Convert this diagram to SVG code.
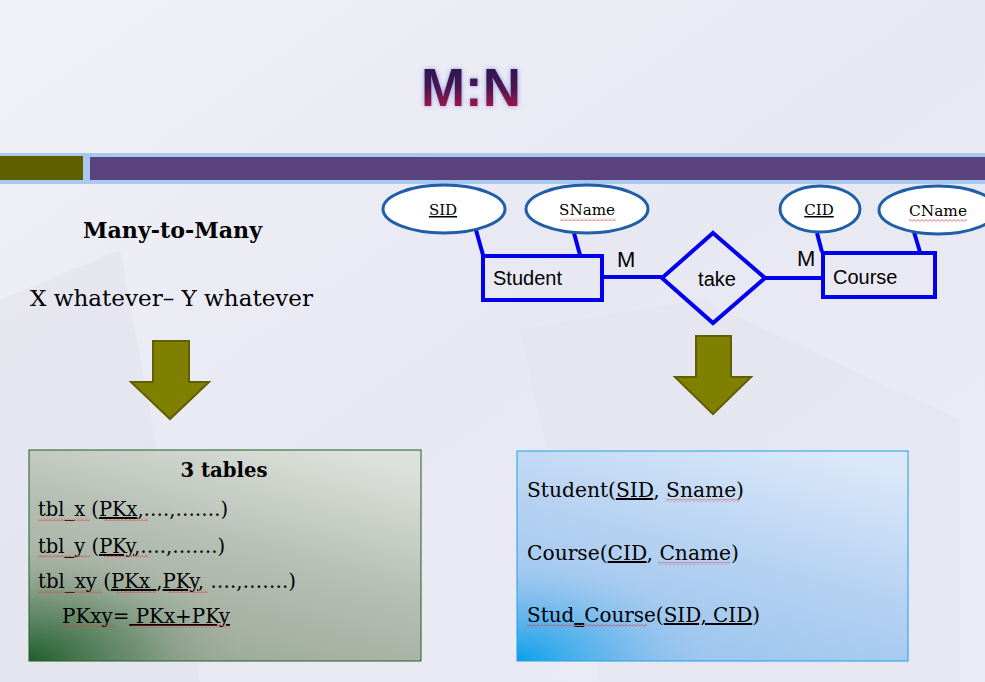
<svg xmlns="http://www.w3.org/2000/svg" width="985" height="682" viewBox="0 0 985 682">
<defs>
<linearGradient id="bg" x1="0" y1="0" x2="1" y2="1">
<stop offset="0" stop-color="#f1f1f8"/>
<stop offset="0.5" stop-color="#e8e8f3"/>
<stop offset="1" stop-color="#ececf6"/>
</linearGradient>
<linearGradient id="title" x1="0" y1="0" x2="0" y2="1">
<stop offset="0" stop-color="#1c1850"/>
<stop offset="0.5" stop-color="#4a1450"/>
<stop offset="1" stop-color="#d0103c"/>
</linearGradient>
<filter id="glow" x="-20%" y="-20%" width="140%" height="140%">
<feGaussianBlur in="SourceAlpha" stdDeviation="2.5" result="b"/>
<feFlood flood-color="#7070e0" flood-opacity="0.7"/>
<feComposite in2="b" operator="in"/>
<feMerge><feMergeNode/><feMergeNode in="SourceGraphic"/></feMerge>
</filter>
<linearGradient id="gbox" x1="0.8" y1="0" x2="0.3" y2="1">
<stop offset="0" stop-color="#dde1dc"/>
<stop offset="0.5" stop-color="#b5beb3"/>
<stop offset="1" stop-color="#9aa898"/>
</linearGradient>
<radialGradient id="gcorner" cx="0" cy="1" r="0.55">
<stop offset="0" stop-color="#1e5e2c" stop-opacity="1"/>
<stop offset="0.5" stop-color="#4a7a50" stop-opacity="0.55"/>
<stop offset="1" stop-color="#9aa898" stop-opacity="0"/>
</radialGradient>
<linearGradient id="bbox" x1="0.8" y1="0" x2="0.3" y2="1">
<stop offset="0" stop-color="#dbe8f9"/>
<stop offset="0.5" stop-color="#b6d2f2"/>
<stop offset="1" stop-color="#98c3ee"/>
</linearGradient>
<radialGradient id="bcorner" cx="0" cy="1" r="0.5">
<stop offset="0" stop-color="#08a0ea" stop-opacity="1"/>
<stop offset="0.5" stop-color="#40acec" stop-opacity="0.5"/>
<stop offset="1" stop-color="#98c3ee" stop-opacity="0"/>
</radialGradient>
<pattern id="wavy" patternUnits="userSpaceOnUse" width="4" height="3">
<path d="M0 2.5 L2 0.5 L4 2.5" fill="none" stroke="#e03838" stroke-width="0.8"/>
</pattern>
<style>
.ell { fill: #ffffff; stroke: #1f5ea8; stroke-width: 3; }
.ent { fill: none; stroke: #0000ee; stroke-width: 4; }
.conn { stroke: #0000ee; stroke-width: 4; fill: none; }
.lab { font-family: "Liberation Sans", Arial, sans-serif; font-size: 20px; fill: #000; }
.card { font-family: "Liberation Sans", Arial, sans-serif; font-size: 22px; fill: #000; }
.attr { font-family: "DejaVu Serif", "Liberation Serif", serif; font-size: 15px; fill: #000; text-anchor: middle; }
.serif { font-family: "DejaVu Serif", "Liberation Serif", serif; fill: #000; }
.big { font-size: 22px; }
.box { font-size: 20px; }
.ul { text-decoration: underline; }
.arrow { fill: #808000; stroke: #5f5f00; stroke-width: 2; }
</style>
</defs>

<rect x="0" y="0" width="985" height="682" fill="url(#bg)"/>
<path d="M0 300 L120 250 L200 682 L0 682 Z" fill="#e2e2ec" opacity="0.6"/>
<path d="M520 330 L700 300 L960 420 L960 682 L600 682 Z" fill="#e4e4ee" opacity="0.5"/>

<g id="title-text">
<text x="471" y="106" text-anchor="middle" font-family="Liberation Sans, Arial, sans-serif" font-size="53" font-weight="bold" fill="url(#title)" filter="url(#glow)" textLength="100" lengthAdjust="spacingAndGlyphs">M:N</text>
</g>

<g id="band">
<rect x="0" y="153" width="985" height="31" fill="#a9c8ef"/>
<rect x="0" y="156" width="83" height="24" fill="#5f5f00"/>
<rect x="90" y="157" width="895" height="23" fill="#5a427e"/>
</g>

<g id="connectors">
<line class="conn" x1="476" y1="230" x2="483" y2="255"/>
<line class="conn" x1="574" y1="233" x2="580" y2="255"/>
<line class="conn" x1="817" y1="233" x2="822" y2="252"/>
<line class="conn" x1="914" y1="232" x2="920" y2="252"/>
<line class="conn" x1="602" y1="277" x2="662" y2="277"/>
<line class="conn" x1="765" y1="278" x2="823" y2="278"/>
<text class="card" x="617" y="267">M</text>
<text class="card" x="797" y="266">M</text>
</g>

<g id="attr-sid">
<ellipse class="ell" cx="444" cy="209" rx="61" ry="24"/>
<text class="attr" x="443" y="215"><tspan class="ul">SID</tspan></text>
</g>
<g id="attr-sname">
<ellipse class="ell" cx="587" cy="209" rx="61" ry="24"/>
<text class="attr" x="587" y="215" textLength="56" lengthAdjust="spacingAndGlyphs">SName</text>
<rect x="560" y="218" width="56" height="3" fill="url(#wavy)"/>
</g>
<g id="attr-cid">
<ellipse class="ell" cx="820" cy="209" rx="40" ry="23"/>
<text class="attr" x="819" y="215"><tspan class="ul">CID</tspan></text>
</g>
<g id="attr-cname">
<ellipse class="ell" cx="938" cy="210" rx="59" ry="24"/>
<text class="attr" x="938" y="216" textLength="58" lengthAdjust="spacingAndGlyphs">CName</text>
<rect x="909" y="219" width="58" height="3" fill="url(#wavy)"/>
</g>

<g id="entity-student">
<rect class="ent" x="483" y="256" width="119" height="44"/>
<text class="lab" x="493" y="285">Student</text>
</g>
<g id="relationship-take">
<polygon class="ent" points="713,233 765,278 713,323 662,278"/>
<text class="lab" x="717" y="286" text-anchor="middle">take</text>
</g>
<g id="entity-course">
<rect class="ent" x="823" y="253" width="112" height="44"/>
<text class="lab" x="833" y="284">Course</text>
</g>

<g id="left-text">
<text class="serif big" x="83" y="238" font-weight="bold" textLength="179" lengthAdjust="spacingAndGlyphs">Many-to-Many</text>
<text class="serif big" x="30" y="306" textLength="283" lengthAdjust="spacingAndGlyphs">X whatever– Y whatever</text>
</g>

<g id="arrow-left">
<polygon class="arrow" points="153,341 189,341 189,382 209,382 170,419 131,382 153,382"/>
</g>
<g id="arrow-right">
<polygon class="arrow" points="696,336 731,336 731,377 751,377 713,414 675,377 696,377"/>
</g>

<g id="box-tables">
<rect x="29" y="450" width="392" height="211" fill="url(#gbox)"/>
<rect x="29" y="450" width="392" height="211" fill="url(#gcorner)"/>
<rect x="29" y="450" width="392" height="211" fill="none" stroke="#1f5f2a" stroke-width="1"/>
<text class="serif box" x="224" y="477" text-anchor="middle" font-weight="bold" textLength="87" lengthAdjust="spacingAndGlyphs">3 tables</text>
<text class="serif box" x="38" y="516" textLength="190" lengthAdjust="spacingAndGlyphs">tbl_x (<tspan class="ul">PKx</tspan>,….,…….)</text>
<text class="serif box" x="38" y="553" textLength="187" lengthAdjust="spacingAndGlyphs">tbl_y (<tspan class="ul">PKy</tspan>,….,…….)</text>
<text class="serif box" x="38" y="588" textLength="258" lengthAdjust="spacingAndGlyphs">tbl_xy (<tspan class="ul">PKx </tspan>,<tspan class="ul">PKy</tspan>, ….,…….)</text>
<text class="serif box" x="62" y="623" textLength="168" lengthAdjust="spacingAndGlyphs">PKxy=<tspan class="ul"> PKx+PKy</tspan></text>
<rect x="38" y="518" width="52" height="3" fill="url(#wavy)"/>
<rect x="104" y="518" width="44" height="3" fill="url(#wavy)"/>
<rect x="38" y="555" width="52" height="3" fill="url(#wavy)"/>
<rect x="104" y="555" width="44" height="3" fill="url(#wavy)"/>
<rect x="38" y="590" width="64" height="3" fill="url(#wavy)"/>
<rect x="116" y="590" width="40" height="3" fill="url(#wavy)"/>
<rect x="168" y="590" width="40" height="3" fill="url(#wavy)"/>
<rect x="62" y="625" width="52" height="3" fill="url(#wavy)"/>
<rect x="132" y="625" width="98" height="3" fill="url(#wavy)"/>
</g>

<g id="box-schema">
<rect x="517" y="451" width="391" height="210" fill="url(#bbox)"/>
<rect x="517" y="451" width="391" height="210" fill="url(#bcorner)"/>
<rect x="517" y="451" width="391" height="210" fill="none" stroke="#1aa0e8" stroke-width="1"/>
<text class="serif box" x="527" y="497" textLength="217" lengthAdjust="spacingAndGlyphs">Student(<tspan class="ul">SID</tspan>, Sname)</text>
<text class="serif box" x="527" y="560" textLength="212" lengthAdjust="spacingAndGlyphs">Course(<tspan class="ul">CID</tspan>, Cname)</text>
<text class="serif box" x="527" y="622" textLength="233" lengthAdjust="spacingAndGlyphs">Stud<tspan class="ul">_</tspan>Course(<tspan class="ul">SID, CID</tspan>)</text>
<rect x="666" y="499" width="74" height="3" fill="url(#wavy)"/>
<rect x="658" y="562" width="72" height="3" fill="url(#wavy)"/>
<rect x="527" y="624" width="120" height="3" fill="url(#wavy)"/>
</g>
</svg>
